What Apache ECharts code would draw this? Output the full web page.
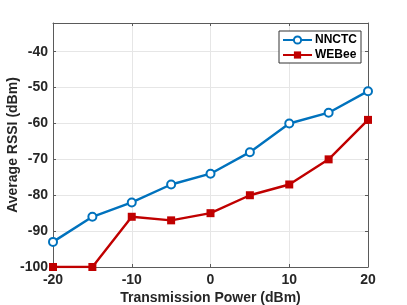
<!DOCTYPE html>
<html><head><meta charset="utf-8">
<script src="https://cdn.jsdelivr.net/npm/echarts@6/dist/echarts.min.js"></script>
<style>html,body{margin:0;padding:0;background:#fff}#c{width:407px;height:305px}</style>
</head><body><div id="c"></div>
<script>
const powers = [-20, -15, -10, -5, 0, 5, 10, 15, 20];
const nnctc = [-93, -86, -82, -77, -74, -68, -60, -57, -51];
const webee = [-100, -100, -86, -87, -85, -80, -77, -70, -59];
const seriesNames = ['NNCTC', 'WEBee'];
const xTitle = 'Transmission Power (dBm)';
const yTitle = 'Average RSSI (dBm)';

const font = 'Liberation Sans, Arial, Helvetica, sans-serif';
const txt = '#262626';
const chart = echarts.init(document.getElementById('c'), null, {renderer: 'canvas'});
const tickAxis = (extra) => Object.assign({
  axisLine: {show: true, onZero: false, lineStyle: {color: '#5a5a5a', width: 1}},
  axisTick: {show: true, inside: true, length: 3, lineStyle: {color: '#5a5a5a'}},
  splitLine: {show: false}, axisLabel: {show: false}
}, extra);
chart.setOption({
  animation: false,
  grid: {left: 53, right: 39, top: 23, bottom: 38, show: false, containLabel: false, outerBoundsMode: 'none'},
  legend: {
    data: seriesNames, orient: 'vertical', right: 46, top: 31,
    backgroundColor: '#fff', borderColor: '#333', borderWidth: 1,
    padding: [3, 4, 2, 3], itemGap: 3, itemWidth: 29, itemHeight: 9,
    textStyle: {fontFamily: font, fontWeight: 'bold', fontSize: 12, color: '#000', padding: [0, 0, 0, -2]}
  },
  xAxis: [{
    type: 'value', min: -20, max: 20, interval: 10,
    name: xTitle, nameLocation: 'middle', nameGap: 24, nameMoveOverlap: false,
    nameTextStyle: {fontFamily: font, fontWeight: 'bold', fontSize: 14, color: txt},
    axisLine: {show: true, onZero: false, lineStyle: {color: '#5a5a5a'}},
    axisTick: {show: true, inside: true, length: 3, lineStyle: {color: '#5a5a5a'}},
    axisLabel: {fontFamily: font, fontWeight: 'bold', fontSize: 14, color: txt, margin: 6},
    splitLine: {show: true, lineStyle: {color: '#e6e6e6'}}
  }, tickAxis({type: 'value', position: 'top', min: -20, max: 20, interval: 10})],
  yAxis: [{
    type: 'value', min: -100, max: -32, interval: 10,
    name: yTitle, nameLocation: 'middle', nameGap: 33, nameMoveOverlap: false,
    nameTextStyle: {fontFamily: font, fontWeight: 'bold', fontSize: 14, color: txt},
    axisLine: {show: true, onZero: false, lineStyle: {color: '#5a5a5a'}},
    axisTick: {show: true, inside: true, length: 3, lineStyle: {color: '#5a5a5a'}},
    axisLabel: {fontFamily: font, fontWeight: 'bold', fontSize: 14, color: txt, margin: 5, showMaxLabel: false},
    splitLine: {show: true, lineStyle: {color: '#e6e6e6'}}
  }, tickAxis({type: 'value', position: 'right', min: -100, max: -32, interval: 10})],
  series: [{
    name: seriesNames[0], type: 'line', data: powers.map((p, i) => [p, nnctc[i]]),
    symbol: 'emptyCircle', symbolSize: 8,
    lineStyle: {color: '#0072BD', width: 2.4},
    itemStyle: {color: '#0072BD', borderWidth: 2}
  }, {
    name: seriesNames[1], type: 'line', data: powers.map((p, i) => [p, webee[i]]),
    symbol: 'rect', symbolSize: 8,
    lineStyle: {color: '#C00000', width: 2.4},
    itemStyle: {color: '#C00000'}
  }]
});
</script></body></html>
